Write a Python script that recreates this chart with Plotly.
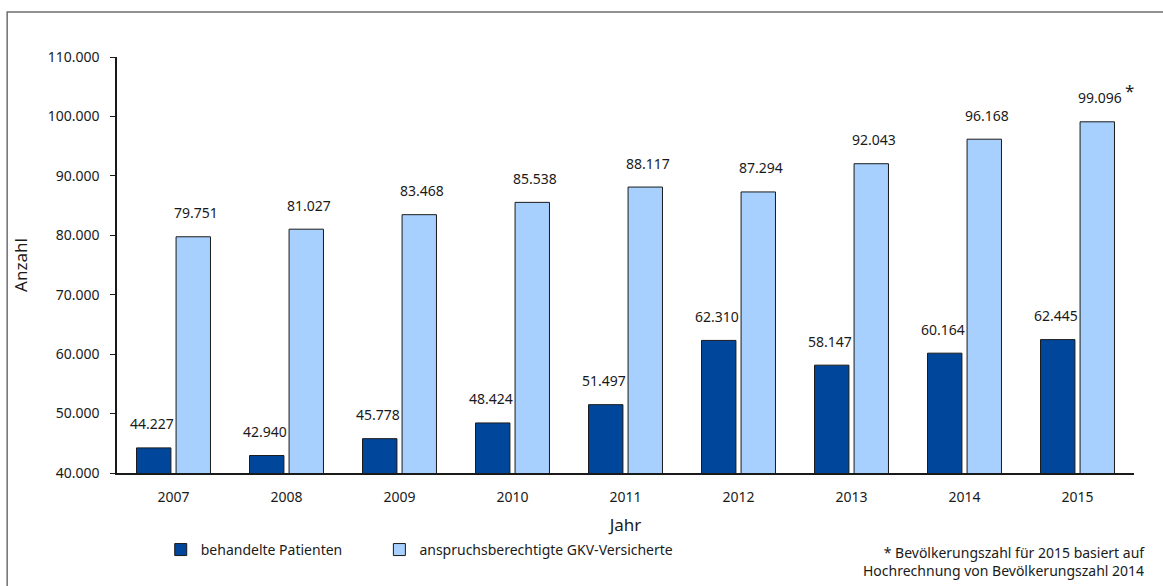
import plotly.graph_objects as go

jahre = ['2007', '2008', '2009', '2010', '2011', '2012', '2013', '2014', '2015']
patienten = [44227, 42940, 45778, 48424, 51497, 62310, 58147, 60164, 62445]
versicherte = [79751, 81027, 83468, 85538, 88117, 87294, 92043, 96168, 99096]

dunkel = '#00479b'
hell = '#a8d0ff'
schrift = dict(family='Noto Sans, Open Sans, sans-serif', size=14, color='#1a1a1a')


def fmt(v):
    return f'{v:,}'.replace(',', '.')


fig = go.Figure()
fig.add_trace(go.Bar(x=jahre, y=patienten, name='behandelte Patienten', legend='legend',
                     marker=dict(color=dunkel, line=dict(color='#1a1a1a', width=1))))
fig.add_trace(go.Bar(x=jahre, y=versicherte, name='anspruchsberechtigte GKV-Versicherte', legend='legend2',
                     marker=dict(color=hell, line=dict(color='#1a1a1a', width=1))))

# Datenbeschriftungen über den Balken (x als Kategorie-Index)
for i, (p, v) in enumerate(zip(patienten, versicherte)):
    fig.add_annotation(x=i, y=p, text=fmt(p), showarrow=False, xshift=-22, yshift=24,
                       yanchor='middle', font=schrift)
    fig.add_annotation(x=i, y=v, text=fmt(v), showarrow=False, xshift=22, yshift=24,
                       yanchor='middle', font=schrift)
fig.add_annotation(x=len(jahre) - 1, y=versicherte[-1], text='*', showarrow=False, xshift=45, yshift=31,
                   xanchor='left', yanchor='middle', font=dict(family=schrift['family'], size=17, color='#1a1a1a'))

fig.add_annotation(xref='paper', yref='paper', x=1.013, y=-0.262, xanchor='right', yanchor='bottom',
                   align='right', showarrow=False, font=schrift,
                   text='* Bevölkerungszahl für 2015 basiert auf<br>Hochrechnung von Bevölkerungszahl 2014')

# äußerer Rahmen
fig.add_shape(type='rect', xref='paper', yref='paper', x0=-0.108, y0=-0.5, x1=1.2, y1=1.108,
              line=dict(color='#6e6e6e', width=1.5))

leg = dict(orientation='h', yanchor='middle', xanchor='left', font=schrift, bgcolor='rgba(0,0,0,0)')

fig.update_layout(
    width=1163, height=586,
    margin=dict(l=117, r=29, t=57, b=113, autoexpand=False),
    paper_bgcolor='white', plot_bgcolor='white',
    font=schrift,
    separators=',.',
    barmode='group', bargap=0.30, bargroupgap=0.13,
    showlegend=True,
    legend=dict(leg, x=0.043, y=-0.185),
    legend2=dict(leg, x=0.258, y=-0.185),
    xaxis=dict(type='category', range=[-0.5, 8.5], title=dict(text='Jahr', standoff=15), showline=True,
               linecolor='#1a1a1a', linewidth=1.5, ticks='', ticklabelstandoff=10,
               showgrid=False, zeroline=False, automargin=False),
    yaxis=dict(title=dict(text='Anzahl', standoff=16), range=[40000, 110000], dtick=10000,
               tickformat=',d', showline=True, linecolor='#1a1a1a', linewidth=1.5,
               ticks='outside', ticklen=5, tickcolor='#1a1a1a', ticklabelstandoff=8,
               showgrid=False, zeroline=False, automargin=False),
)

fig.write_html('out.html', config={'displayModeBar': False},
               post_script="document.body.style.margin='0';")
